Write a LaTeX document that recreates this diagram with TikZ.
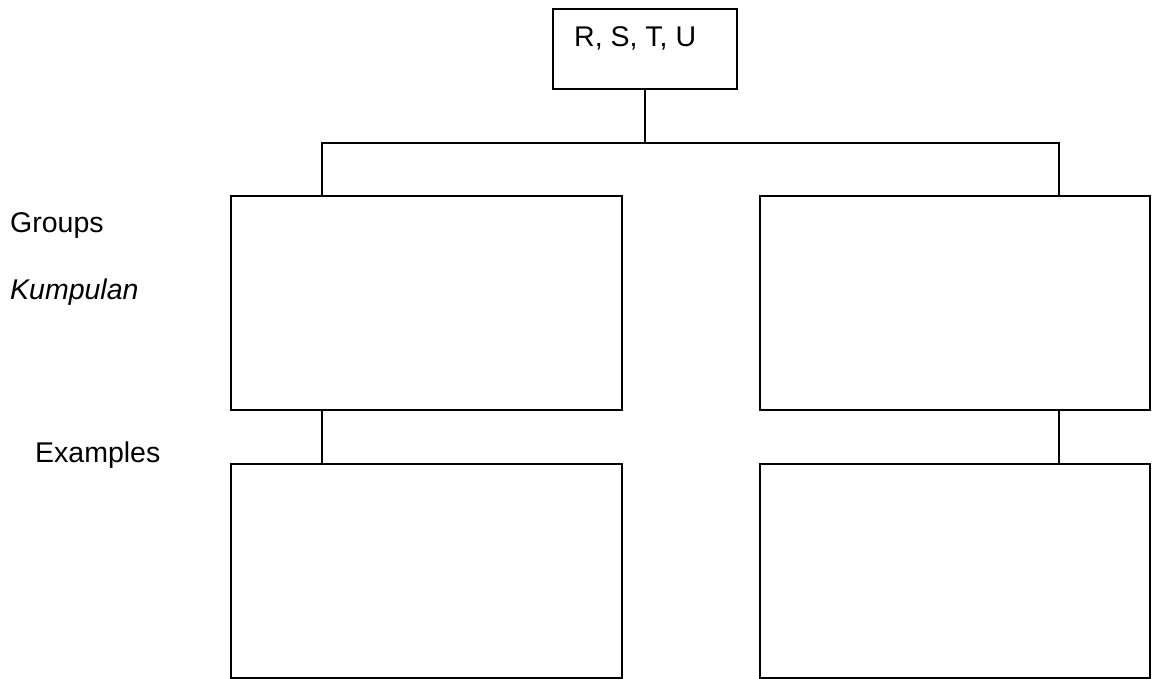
\documentclass[tikz,border=0pt]{standalone}
\usepackage{fontspec}
\setmainfont{Liberation Sans}
\begin{document}
\begin{tikzpicture}[x=1pt,y=-1pt,
  box/.style={draw,line width=1.5pt,inner sep=0pt,anchor=center,rectangle},
  lbl/.style={inner sep=0pt,anchor=base west,font=\fontsize{28.5}{34}\selectfont},
  conn/.style={line width=1.5pt}]
\useasboundingbox (0,0) rectangle (1154,679);
\node[box,minimum width=184pt,minimum height=80pt] (top) at (645,49) {};
\node[lbl] (toptext) at (574,47) {R, S, T, U};
\node[box,minimum width=391pt,minimum height=214pt] (g1) at (426.5,303) {};
\node[box,minimum width=390pt,minimum height=214pt] (g2) at (955,303) {};
\node[box,minimum width=391pt,minimum height=214pt] (e1) at (426.5,571) {};
\node[box,minimum width=390pt,minimum height=214pt] (e2) at (955,571) {};
\coordinate (cL) at (322,143);
\coordinate (cR) at (1059,143);
\draw[conn] (top.south) -- (top.south |- cL);
\draw[conn] (cL |- g1.north) -- (cL) -- (cR) -- (cR |- g2.north);
\draw[conn] (cL |- g1.south) -- (cL |- e1.north);
\draw[conn] (cR |- g2.south) -- (cR |- e2.north);
\node[lbl] (groups) at (10,233) {Groups};
\node[lbl] (kump) at (10,299) {\itshape Kumpulan};
\node[lbl] (ex) at (35,462) {Examples};
\end{tikzpicture}
\end{document}
